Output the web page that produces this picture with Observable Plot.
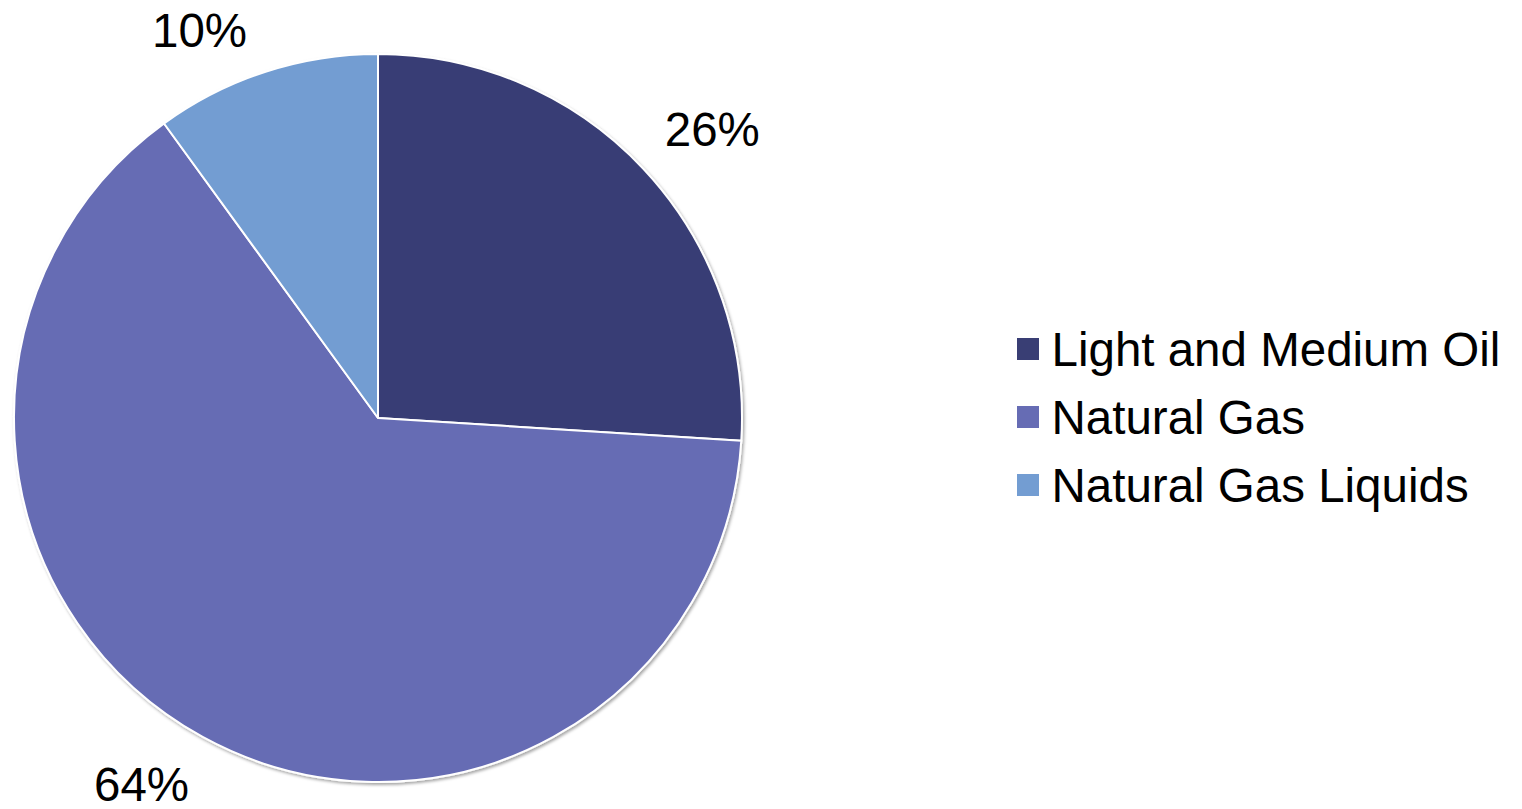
<!DOCTYPE html>
<html>
<head>
<meta charset="utf-8">
<script src="https://cdn.jsdelivr.net/npm/d3@7"></script>
<script src="https://cdn.jsdelivr.net/npm/@observablehq/plot@0.6"></script>
<style>
  html, body { margin: 0; padding: 0; background: #fff; overflow: hidden; }
  #chart svg { display: block; }
</style>
</head>
<body>
<div id="chart"></div>
<script>
// Production mix by product type (percent of total)
const categories = ["Light and Medium Oil", "Natural Gas", "Natural Gas Liquids"];
const shares = [26, 64, 10];
const palette = ["#393e74", "#666cb4", "#739dd2"];

const W = 1522, H = 809;
const cx = 378, cy = 418, radius = 364;
const labelRadius = 440;
// fine placement of each percent label relative to its slice direction
const labelNudge = [[13, 13], [-25, -18], [-43, 32]];
const legend = {swatchX: 1017, swatch: 22, textX: 1051, top: 350, step: 68};
const font = "'Liberation Sans', Arial, Helvetica, sans-serif";
const fontSize = 47.5;

const rows = categories.map((category, i) => ({category, share: shares[i]}));
const arcs = d3.pie().sort(null).value(d => d.share)(rows);

const labels = arcs.map((a, i) => {
  const mid = (a.startAngle + a.endAngle) / 2;
  return {
    text: `${a.data.share}%`,
    x: cx + labelRadius * Math.sin(mid) + labelNudge[i][0],
    y: cy - labelRadius * Math.cos(mid) + labelNudge[i][1]
  };
});

const legendRows = categories.map((category, i) => ({category, y: legend.top + i * legend.step}));

// pie slices drawn through the plot's color scale
function pieMark(index, scales) {
  const g = d3.create("svg:g");
  const defs = g.append("defs");
  const f = defs.append("filter").attr("id", "pie-shadow")
    .attr("x", "-10%").attr("y", "-10%").attr("width", "120%").attr("height", "120%");
  f.append("feDropShadow").attr("dx", 1.5).attr("dy", 2).attr("stdDeviation", 1.6)
    .attr("flood-color", "#000").attr("flood-opacity", 0.35);
  const arc = d3.arc().innerRadius(0).outerRadius(radius);
  g.append("g")
    .attr("transform", `translate(${cx},${cy})`)
    .attr("filter", "url(#pie-shadow)")
    .selectAll("path")
    .data(arcs)
    .join("path")
    .attr("d", arc)
    .attr("fill", d => scales.color(d.data.category))
    .attr("stroke", "#fff")
    .attr("stroke-width", 2)
    .attr("stroke-linejoin", "round");
  return g.node();
}

const chart = Plot.plot({
  width: W,
  height: H,
  margin: 0,
  axis: null,
  x: {type: "identity"},
  y: {type: "identity"},
  color: {domain: categories, range: palette},
  style: {background: "#fff", fontFamily: font},
  marks: [
    pieMark,
    Plot.text(labels, {
      x: "x", y: "y", text: "text",
      fontSize, fill: "#000", fontFamily: font
    }),
    Plot.rect(legendRows, {
      x1: () => legend.swatchX,
      x2: () => legend.swatchX + legend.swatch,
      y1: d => d.y - 1 - legend.swatch / 2,
      y2: d => d.y - 1 + legend.swatch / 2,
      fill: "category"
    }),
    Plot.text(legendRows, {
      x: () => legend.textX, y: "y", text: "category",
      textAnchor: "start", fontSize, fill: "#000", fontFamily: font
    })
  ]
});

document.getElementById("chart").append(chart);
</script>
</body>
</html>
